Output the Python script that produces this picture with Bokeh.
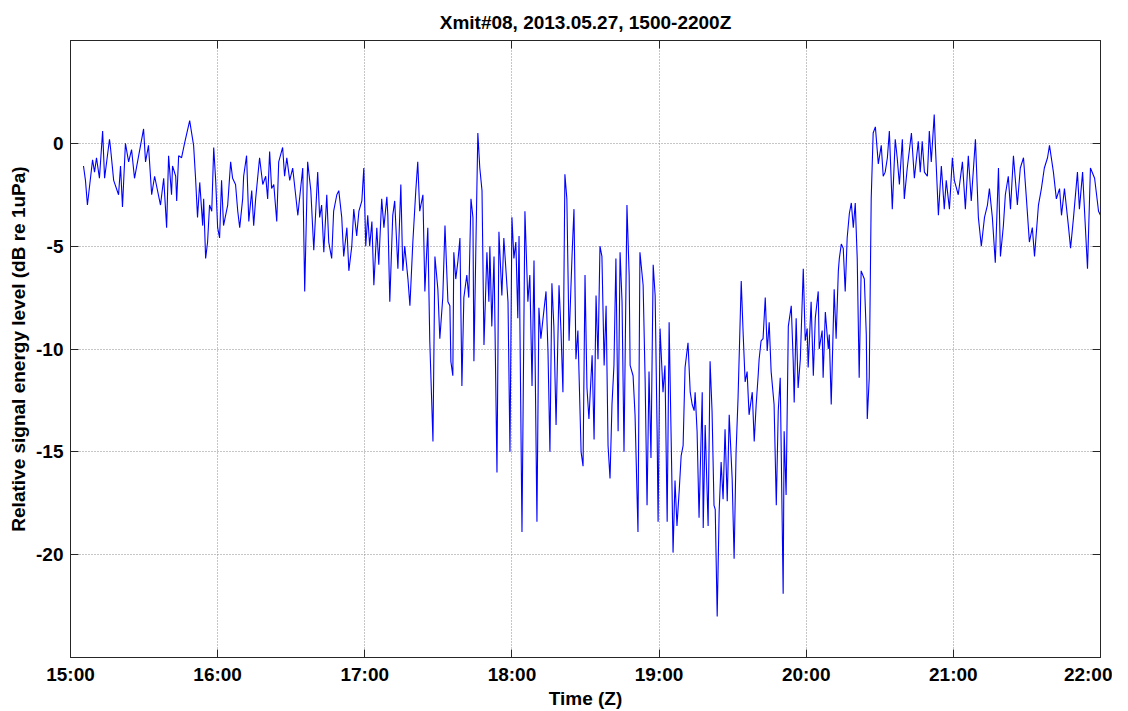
from bokeh.plotting import figure
from bokeh.models import FixedTicker, LinearAxis, Range1d
from bokeh.embed import file_html
from bokeh.resources import INLINE

TITLE = "Xmit#08, 2013.05.27, 1500-2200Z"
X_LABEL = "Time (Z)"
Y_LABEL = "Relative signal energy level (dB re 1uPa)"

x_tick_minutes = [0, 60, 120, 180, 240, 300, 360, 420]
x_tick_labels = ["15:00", "16:00", "17:00", "18:00", "19:00", "20:00", "21:00", "22:00"]
y_ticks = [-20, -15, -10, -5, 0]
y_tick_labels = ["-20", "-15", "-10", "-5", "0"]

# minutes after 15:00Z
minutes = [
    5.3, 6.1, 6.9, 9.0, 9.8, 10.6, 11.8, 13.1, 13.9, 15.9, 16.3, 17.6, 19.6, 20.4, 21.2, 22.4,
    23.7, 24.9, 26.1, 27.8, 29.8, 30.6, 31.8, 33.1, 34.3, 36.7, 38.0, 39.2, 40.0, 41.2, 41.6,
    42.9, 43.3, 44.1, 45.3, 46.5, 48.6, 49.4, 50.2, 51.0, 51.8, 52.7, 53.9, 54.3, 55.1, 55.9,
    56.7, 57.6, 58.4, 59.2, 60.0, 60.8, 61.6, 62.4, 64.1, 65.3, 66.1, 67.3, 68.2, 69.0, 70.2,
    70.6, 71.8, 72.7, 73.9, 74.7, 75.5, 77.1, 78.4, 79.6, 80.4, 81.2, 82.0, 82.9, 84.1, 84.9,
    86.5, 87.3, 88.2, 89.4, 90.6, 91.8, 92.7, 94.7, 95.5, 96.7, 98.0, 99.2, 100.8, 101.6,
    102.4, 103.3, 104.5, 105.3, 106.5, 107.3, 108.6, 109.4, 110.6, 111.4, 112.7, 113.5, 114.7,
    115.5, 116.7, 117.6, 118.8, 119.6, 120.4, 121.2, 122.0, 122.9, 123.7, 124.9, 125.7, 126.9,
    127.8, 129.0, 129.4, 130.2, 131.4, 132.2, 133.5, 134.7, 135.5, 136.3, 137.6, 138.4, 139.6,
    140.8, 141.6, 142.4, 143.7, 144.5, 145.7, 146.5, 147.8, 148.6, 149.8, 150.6, 151.8, 152.7,
    153.9, 154.7, 155.1, 155.9, 156.3, 157.1, 158.0, 158.8, 159.6, 160.4, 161.6, 162.4, 163.3,
    164.1, 164.5, 166.1, 166.9, 167.8, 168.6, 169.8, 170.6, 171.0, 171.8, 172.7, 173.9, 174.7,
    175.9, 176.7, 178.4, 179.2, 180.0, 180.8, 181.6, 182.4, 182.9, 184.1, 185.3, 186.5, 187.3,
    188.2, 189.0, 190.2, 191.0, 191.8, 192.7, 193.9, 194.7, 195.5, 196.3, 197.1, 198.0, 199.2,
    200.0, 200.8, 201.6, 202.4, 203.3, 204.5, 205.3, 206.1, 206.9, 208.2, 209.0, 209.8, 210.6,
    211.4, 212.7, 213.5, 214.3, 215.1, 215.9, 216.7, 217.6, 218.4, 219.2, 220.0, 220.8, 221.6,
    222.4, 223.3, 224.1, 224.9, 225.7, 226.9, 227.8, 228.2, 229.4, 230.2, 231.4, 232.2, 233.5,
    234.3, 235.1, 235.9, 236.7, 237.6, 238.4, 239.2, 239.6, 240.4, 241.6, 242.4, 243.3, 244.1,
    245.3, 245.7, 246.5, 247.3, 248.2, 249.0, 249.8, 250.6, 251.8, 252.7, 253.5, 254.3, 254.7,
    255.5, 256.3, 257.6, 258.0, 258.8, 260.0, 260.8, 261.6, 262.4, 262.9, 263.7, 264.5, 265.3,
    266.1, 266.9, 267.8, 268.6, 269.8, 270.6, 271.4, 272.2, 273.5, 274.3, 275.1, 275.9, 276.7,
    278.0, 278.8, 279.6, 280.4, 280.8, 281.6, 282.4, 283.3, 284.1, 284.9, 285.7, 286.9, 287.8,
    288.6, 289.4, 290.6, 291.0, 291.8, 292.7, 293.9, 294.7, 295.1, 295.9, 296.7, 297.6, 298.8,
    299.6, 300.4, 300.8, 302.0, 302.9, 303.7, 304.9, 305.3, 306.5, 306.9, 307.8, 309.0, 309.4,
    310.2, 311.4, 312.2, 313.1, 313.5, 314.3, 315.1, 315.9, 316.7, 317.6, 318.4, 319.2, 320.0,
    320.8, 321.6, 322.4, 323.7, 324.5, 324.9, 325.7, 326.5, 327.3, 328.2, 329.4, 330.6, 331.4,
    332.2, 333.1, 333.9, 335.1, 336.3, 337.1, 338.0, 339.2, 340.0, 341.2, 342.9, 344.1, 345.7,
    346.5, 347.3, 348.2, 349.4, 350.2, 351.0, 352.2, 352.7, 353.9, 354.3, 355.1, 356.3, 357.1,
    358.4, 359.6, 360.4, 362.0, 363.7, 364.9, 366.1, 367.3, 369.0, 370.2, 371.4, 372.7, 373.9,
    374.7, 375.9, 377.1, 378.4, 379.2, 380.4, 381.2, 382.4, 383.3, 384.5, 386.1, 387.3, 388.6,
    389.8, 391.0, 392.2, 393.1, 394.7, 395.9, 397.1, 398.4, 399.2, 400.8, 402.0, 403.3, 404.1,
    405.3, 406.9, 407.8, 409.0, 410.6, 411.4, 412.7, 413.5, 414.7, 415.9, 417.6, 418.4, 419.2,
    420.0,
]

# relative signal energy level, dB re 1uPa
level_db = [
    -1.1, -1.8, -3.0, -0.8, -1.4, -0.7, -1.7, 0.6, -1.7, 0.2, -0.2, -1.8, -2.5, -1.1, -3.1, 0.0,
    -0.9, -0.3, -1.7, -0.6, 0.7, -0.9, -0.1, -2.5, -1.6, -3.0, -1.7, -4.1, -0.6, -2.5, -1.1,
    -1.6, -2.8, -0.6, -0.7, 0.0, 1.1, 0.5, -0.1, -1.7, -3.6, -1.9, -4.0, -2.7, -5.6, -4.8,
    -3.0, -3.3, -0.2, -1.8, -4.1, -4.6, -1.8, -4.0, -3.0, -0.9, -1.7, -2.0, -3.3, -4.1, -2.7,
    -1.6, -0.6, -3.8, -2.3, -4.0, -2.7, -0.7, -2.0, -1.6, -2.7, -0.4, -2.2, -2.0, -3.8, -0.9,
    -0.2, -1.6, -0.7, -1.8, -1.2, -2.5, -3.5, -1.2, -7.2, -0.9, -2.3, -5.2, -1.4, -3.6,
    -3.0, -5.3, -2.5, -4.8, -5.6, -3.3, -2.5, -2.3, -3.6, -5.5, -4.1, -6.2, -5.0,
    -3.2, -4.5, -3.3, -2.8, -1.2, -5.0, -3.5, -5.0, -3.8, -6.9, -4.1, -5.9, -2.7,
    -4.1, -2.6, -3.5, -7.7, -3.5, -2.8, -6.1, -2.0, -6.2, -5.0, -6.6, -7.9, -4.8,
    -2.3, -0.9, -3.3, -2.5, -7.2, -4.1, -9.6, -14.5, -5.5, -7.1, -9.5, -7.5, -4.0,
    -7.7, -7.9, -10.6, -11.3, -5.3, -6.6, -5.7, -4.6, -11.8, -7.5, -6.4, -7.5, -2.7,
    -3.6, -10.6, 0.5, -1.2, -2.3, -9.8, -5.3, -7.7, -5.0, -8.9, -5.5, -16.0, -4.3,
    -7.4, -4.6, -7.7, -15.0, -3.6, -5.6, -4.8, -8.5, -4.5, -18.9, -3.3, -7.7, -6.4,
    -11.8, -5.7, -18.4, -8.0, -9.5, -8.5, -7.2, -10.1, -15.0, -6.8, -8.9, -13.7, -6.9,
    -9.1, -12.1, -1.5, -2.7, -9.6, -5.5, -3.2, -10.5, -9.1, -15.0, -15.7, -6.4, -11.9,
    -13.4, -10.3, -14.4, -7.4, -10.5, -5.0, -5.5, -10.8, -7.9, -14.7, -16.3, -12.7, -10.8,
    -5.6, -14.0, -5.3, -7.7, -15.0, -3.0, -6.4, -10.8, -11.3, -13.2, -18.9, -5.3, -6.9,
    -11.4, -17.6, -11.1, -15.3, -5.9, -7.4, -14.0, -18.4, -9.0, -12.1, -10.8, -18.4, -8.7,
    -16.9, -19.9, -16.4, -18.6, -16.9, -15.2, -14.7, -10.9, -9.7, -12.1, -12.7, -13.0, -12.1,
    -14.0, -18.2, -12.1, -18.7, -13.7, -18.6, -10.6, -13.0, -17.6, -17.8, -23.0, -17.9, -15.5,
    -17.3, -13.9, -17.4, -13.2, -16.3, -20.2, -15.0, -12.4, -6.7, -9.3, -11.6, -11.1, -13.2,
    -12.1, -14.5, -12.7, -11.3, -10.5, -9.6, -9.5, -7.5, -10.1, -8.7, -11.1, -12.7, -17.6,
    -13.0, -11.4, -21.9, -14.0, -17.1, -8.9, -7.9, -10.6, -12.6, -8.5, -11.9, -10.5, -6.1,
    -9.6, -9.0, -10.9, -7.7, -11.3, -8.5, -7.2, -10.0, -9.1, -11.4, -8.2, -10.0, -9.3,
    -12.7, -7.1, -9.5, -6.2, -5.6, -4.9, -5.1, -7.2, -4.6, -3.4, -2.9, -4.1, -2.9,
    -5.6, -11.4, -6.2, -6.6, -9.3, -13.4, -11.4, -2.7, 0.5, 0.8, -1.0, -0.1, -1.6,
    -1.4, -0.7, 0.6, -3.2, 0.2, -0.7, -2.0, 0.2, -2.7, -1.2, 0.5, -1.7, 0.1,
    -1.4, 0.1, -1.4, -1.6, 0.6, -0.9, 1.4, -0.2, -3.5, -2.7, -1.1, -3.2, -1.8,
    -3.2, -0.7, -1.8, -2.5, -0.9, -3.2, -0.6, -2.8, 0.2, -3.6, -5.0, -3.6, -3.0,
    -2.2, -3.6, -5.8, -1.2, -5.5, -4.0, -2.5, -1.6, -3.2, -0.6, -3.0, -1.2, -0.7,
    -2.7, -4.8, -4.1, -5.5, -3.0, -2.2, -1.2, -0.7, -0.1, -1.4, -2.7, -2.2, -3.5,
    -2.2, -4.0, -5.1, -3.6, -1.4, -3.2, -1.4, -3.3, -6.1, -1.2, -1.7, -2.5, -3.3,
    -3.5,
]

FONT = "Liberation Sans"
AX_COLOR = "#262626"

p = figure(
    frame_width=1030, frame_height=617,
    min_border_left=70, min_border_right=12, min_border_top=40, min_border_bottom=50,
    x_range=Range1d(0, 420), y_range=Range1d(-25, 5),
    output_backend="svg", toolbar_location=None, title=TITLE,
    background_fill_color="white", border_fill_color="white",
)

p.line(minutes, level_db, line_color="#0000FF", line_width=1.1)

p.title.align = "center"
p.title.text_font = FONT
p.title.text_font_size = "19px"
p.title.text_font_style = "bold"
p.title.text_color = "black"
p.title.offset = 0
p.title.standoff = 16

p.outline_line_color = AX_COLOR
p.outline_line_width = 1

for ax in (p.xaxis[0], p.yaxis[0]):
    ax.axis_line_color = AX_COLOR
    ax.major_tick_line_color = AX_COLOR
    ax.major_tick_in = 8
    ax.major_tick_out = 0
    ax.minor_tick_line_color = None
    ax.major_label_text_font = FONT
    ax.major_label_text_font_size = "19px"
    ax.major_label_text_font_style = "bold"
    ax.major_label_text_color = "black"
    ax.axis_label_text_font = FONT
    ax.axis_label_text_font_size = "19px"
    ax.axis_label_text_font_style = "bold"
    ax.axis_label_text_color = "black"

p.xaxis[0].ticker = FixedTicker(ticks=x_tick_minutes)
p.xaxis[0].major_label_overrides = dict(zip(x_tick_minutes, x_tick_labels))
p.xaxis[0].axis_label = X_LABEL
p.xaxis[0].major_label_standoff = 6
p.xaxis[0].axis_label_standoff = 0

p.yaxis[0].ticker = FixedTicker(ticks=y_ticks)
p.yaxis[0].major_label_overrides = dict(zip(y_ticks, y_tick_labels))
p.yaxis[0].axis_label = Y_LABEL
p.yaxis[0].major_label_standoff = 7
p.yaxis[0].axis_label_standoff = 4

# mirrored ticks on top and right (box)
top = LinearAxis(ticker=FixedTicker(ticks=x_tick_minutes), major_tick_in=8, major_tick_out=0,
                 minor_tick_line_color=None,
                 major_label_overrides={t: "" for t in x_tick_minutes},
                 axis_line_color=AX_COLOR, major_tick_line_color=AX_COLOR,
                 major_label_standoff=0)
right = LinearAxis(ticker=FixedTicker(ticks=y_ticks), major_tick_in=8, major_tick_out=0,
                   minor_tick_line_color=None,
                   major_label_overrides={t: "" for t in y_ticks},
                   axis_line_color=AX_COLOR, major_tick_line_color=AX_COLOR,
                   major_label_standoff=0)
p.add_layout(top, "above")
p.add_layout(right, "right")

p.xgrid.ticker = FixedTicker(ticks=x_tick_minutes)
p.ygrid.ticker = FixedTicker(ticks=y_ticks)
for g in (p.xgrid[0], p.ygrid[0]):
    g.grid_line_color = "#8c8c8c"
    g.grid_line_dash = "1 2"
    g.grid_line_width = 1

open("out.html", "w").write(file_html(p, INLINE))
